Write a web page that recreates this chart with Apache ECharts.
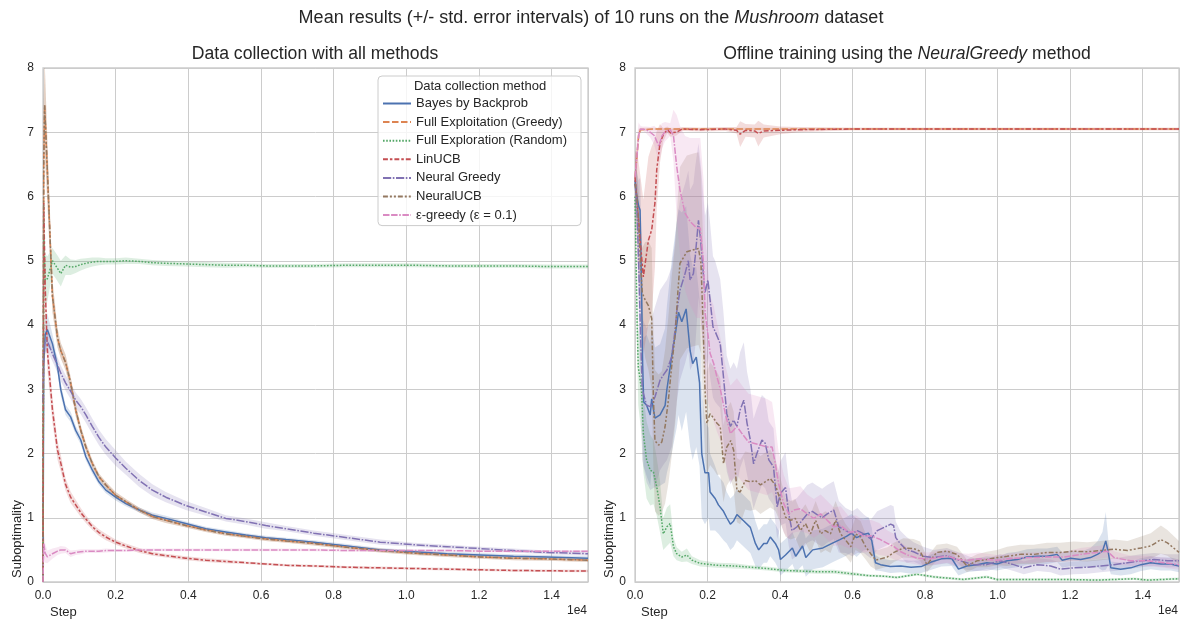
<!DOCTYPE html>
<html>
<head>
<meta charset="utf-8">
<script src="https://cdn.jsdelivr.net/npm/echarts@6/dist/echarts.min.js"></script>
<style>
  html, body { margin: 0; padding: 0; background: #fff; }
  #chart { width: 1182px; height: 622px; }
</style>
</head>
<body>
<div id="chart"></div>
<script>
// legend order = plotting order
const methods = ['Bayes by Backprob', 'Full Exploitation (Greedy)', 'Full Exploration (Random)',
  'LinUCB', 'Neural Greedy', 'NeuralUCB', 'ε-greedy (ε = 0.1)'];

// rows are [step, mean suboptimality, half width of std. error band]
// --- left: data collection with all methods ---
const lBayes = [[0,0,0],[20,3.4,0.3],[60,3.85,0.3],[120,3.93,0.25],[260,3.71,0.15],[400,3.35,0.1],[490,2.99,0.1],[620,2.68,0.08],[760,2.57,0.08],[900,2.36,0.07],[1040,2.21,0.07],[1180,1.95,0.06],[1360,1.74,0.06],[1540,1.56,0.05],[1730,1.43,0.05],[2000,1.32,0.05],[2280,1.22,0.04],[2650,1.12,0.04],[3010,1.04,0.04],[3380,0.99,0.04],[3930,0.91,0.03],[4480,0.83,0.03],[5030,0.78,0.03],[5580,0.73,0.03],[6130,0.69,0.03],[6690,0.66,0.03],[7450,0.62,0.03],[8370,0.56,0.03],[9280,0.5,0.03],[10200,0.47,0.03],[11120,0.44,0.03],[12040,0.42,0.03],[12950,0.4,0.03],[13870,0.39,0.03],[15000,0.37,0.03]];
// greedy sits under NeuralUCB in this panel
const lExploit = [[0,0,0],[20,6.5,1.0],[45,7.42,0.7],[120,6.4,0.5],[260,4.45,0.25],[400,3.8,0.15],[490,3.6,0.12],[620,3.42,0.12],[760,3.1,0.1],[900,2.68,0.1],[1040,2.36,0.08],[1180,2.1,0.07],[1360,1.84,0.06],[1540,1.64,0.05],[1730,1.51,0.05],[2000,1.35,0.05],[2280,1.25,0.04],[2650,1.12,0.04],[3010,1.02,0.04],[3380,0.96,0.04],[3930,0.88,0.03],[4480,0.81,0.03],[5030,0.75,0.03],[5580,0.71,0.03],[6130,0.67,0.03],[6690,0.64,0.03],[7450,0.6,0.03],[8370,0.54,0.03],[9280,0.49,0.03],[10200,0.45,0.03],[11120,0.42,0.03],[12040,0.39,0.03],[12950,0.37,0.03],[13870,0.36,0.03],[15000,0.34,0.03]];
const lRandom = [[0,0,0],[20,5.4,0.5],[60,4.7,0.4],[120,4.72,0.35],[260,5.0,0.2],[400,4.88,0.2],[490,4.8,0.2],[620,4.93,0.15],[760,4.9,0.12],[900,4.91,0.1],[1040,4.94,0.09],[1180,4.96,0.08],[1360,4.98,0.07],[1540,4.99,0.06],[1730,4.99,0.05],[2000,4.99,0.05],[2280,5.0,0.05],[2650,4.99,0.04],[3010,4.97,0.04],[3380,4.96,0.04],[3930,4.95,0.04],[4480,4.94,0.04],[5030,4.93,0.04],[5580,4.93,0.03],[6130,4.92,0.03],[6690,4.92,0.03],[7450,4.92,0.03],[8370,4.93,0.03],[9280,4.93,0.03],[10200,4.93,0.03],[11120,4.92,0.03],[12040,4.92,0.03],[12950,4.92,0.03],[13870,4.91,0.03],[15000,4.91,0.03]];
const lLin = [[0,0,0],[20,5.9,0.5],[60,4.6,0.4],[120,3.6,0.3],[260,2.68,0.2],[400,2.05,0.15],[490,1.85,0.13],[620,1.52,0.1],[760,1.32,0.09],[900,1.2,0.08],[1040,1.08,0.07],[1180,0.98,0.06],[1360,0.86,0.05],[1540,0.77,0.05],[1730,0.7,0.05],[2000,0.62,0.04],[2280,0.56,0.04],[2650,0.49,0.04],[3010,0.44,0.03],[3380,0.41,0.03],[3930,0.37,0.03],[4480,0.34,0.03],[5030,0.32,0.03],[5580,0.3,0.02],[6130,0.28,0.02],[6690,0.26,0.02],[7450,0.25,0.02],[8370,0.23,0.02],[9280,0.22,0.02],[10200,0.21,0.02],[11120,0.2,0.02],[12040,0.19,0.02],[12950,0.18,0.02],[13870,0.175,0.02],[15000,0.17,0.02]];
const lGreedy = [[0,2.8,0],[20,3.6,0.25],[60,3.75,0.2],[120,3.75,0.15],[260,3.55,0.12],[400,3.38,0.12],[490,3.25,0.12],[620,3.1,0.12],[760,2.97,0.12],[900,2.83,0.12],[1040,2.73,0.12],[1180,2.6,0.12],[1360,2.42,0.12],[1540,2.25,0.12],[1730,2.1,0.12],[2000,1.93,0.12],[2280,1.77,0.1],[2650,1.58,0.1],[3010,1.43,0.09],[3380,1.32,0.08],[3930,1.19,0.07],[4480,1.09,0.06],[5030,0.99,0.05],[5580,0.94,0.05],[6130,0.88,0.05],[6690,0.83,0.04],[7450,0.76,0.04],[8370,0.69,0.04],[9280,0.62,0.04],[10200,0.58,0.03],[11120,0.55,0.03],[12040,0.52,0.03],[12950,0.49,0.03],[13870,0.46,0.03],[15000,0.44,0.03]];
const lUCB = [[0,0,0],[20,6.5,1.0],[45,7.42,0.7],[120,6.4,0.5],[260,4.45,0.25],[400,3.8,0.15],[490,3.6,0.12],[620,3.42,0.12],[760,3.1,0.1],[900,2.68,0.1],[1040,2.36,0.08],[1180,2.1,0.07],[1360,1.84,0.06],[1540,1.64,0.05],[1730,1.51,0.05],[2000,1.35,0.05],[2280,1.25,0.04],[2650,1.12,0.04],[3010,1.02,0.04],[3380,0.96,0.04],[3930,0.88,0.03],[4480,0.81,0.03],[5030,0.75,0.03],[5580,0.71,0.03],[6130,0.67,0.03],[6690,0.64,0.03],[7450,0.6,0.03],[8370,0.54,0.03],[9280,0.49,0.03],[10200,0.45,0.03],[11120,0.42,0.03],[12040,0.39,0.03],[12950,0.37,0.03],[13870,0.36,0.03],[15000,0.34,0.03]];
const lEps = [[0,0,0],[20,0.6,0.2],[60,0.45,0.15],[120,0.39,0.1],[260,0.44,0.08],[400,0.48,0.06],[490,0.5,0.06],[620,0.5,0.05],[760,0.44,0.05],[900,0.46,0.04],[1040,0.47,0.04],[1180,0.48,0.03],[1360,0.48,0.03],[1540,0.48,0.03],[1730,0.49,0.03],[2000,0.49,0.02],[2280,0.49,0.02],[2650,0.5,0.02],[3010,0.5,0.02],[3380,0.5,0.02],[3930,0.5,0.02],[4480,0.5,0.02],[5030,0.5,0.02],[5580,0.5,0.02],[6130,0.5,0.02],[6690,0.5,0.02],[7450,0.5,0.02],[8370,0.49,0.02],[9280,0.49,0.02],[10200,0.49,0.02],[11120,0.49,0.02],[12040,0.48,0.02],[12950,0.48,0.02],[13870,0.48,0.02],[15000,0.48,0.02]];

// --- right: offline training with NeuralGreedy ---
const rBayes = [[0,6.25,0.4],[50,6.0,0.4],[100,5.85,0.4],[140,5.79,0.5],[180,4.6,0.8],[210,3.4,1.0],[240,2.8,1.0],[320,2.75,1.1],[420,2.6,1.1],[460,2.85,1.1],[550,2.55,1.1],[690,2.6,1.1],[830,2.75,1.2],[880,3.0,1.3],[1010,3.5,1.5],[1150,4.0,1.6],[1200,4.2,1.6],[1290,4.05,1.7],[1410,4.25,1.6],[1520,3.6,1.5],[1590,3.4,1.5],[1690,3.5,1.4],[1780,3.1,1.3],[1840,2.0,1.0],[1930,1.7,0.8],[2030,1.7,0.7],[2070,1.4,0.6],[2210,1.3,0.5],[2300,1.2,0.45],[2440,1.1,0.45],[2530,1.0,0.4],[2630,0.9,0.4],[2720,0.95,0.4],[2810,1.05,0.4],[3000,0.95,0.4],[3180,0.85,0.4],[3320,0.6,0.35],[3410,0.5,0.3],[3550,0.6,0.3],[3640,0.6,0.3],[3730,0.7,0.3],[3870,0.6,0.3],[3960,0.5,0.3],[4010,0.35,0.25],[4150,0.42,0.25],[4340,0.53,0.25],[4430,0.4,0.25],[4620,0.56,0.3],[4710,0.38,0.3],[4900,0.5,0.3],[5180,0.53,0.3],[5460,0.61,0.3],[5650,0.66,0.3],[5830,0.71,0.3],[5970,0.76,0.3],[6110,0.69,0.3],[6300,0.74,0.25],[6440,0.76,0.25],[6530,0.64,0.2],[6630,0.3,0.12],[6770,0.27,0.1],[7040,0.24,0.1],[7330,0.25,0.1],[7610,0.23,0.1],[7890,0.24,0.1],[8170,0.31,0.12],[8450,0.36,0.12],[8730,0.37,0.12],[8920,0.2,0.1],[9150,0.25,0.1],[9430,0.27,0.1],[9700,0.3,0.1],[9980,0.28,0.1],[10260,0.33,0.12],[10540,0.35,0.12],[10810,0.39,0.12],[11090,0.4,0.12],[11360,0.4,0.12],[11640,0.43,0.12],[11780,0.34,0.12],[12010,0.37,0.12],[12290,0.35,0.12],[12560,0.38,0.15],[12750,0.43,0.2],[12890,0.48,0.3],[12980,0.64,0.45],[13050,0.46,0.2],[13120,0.22,0.1],[13390,0.2,0.1],[13670,0.22,0.1],[13950,0.27,0.1],[14220,0.3,0.1],[14500,0.28,0.1],[14770,0.28,0.1],[15000,0.25,0.1]];
const rExploit = [[0,6.3,0.3],[50,6.6,0.2],[100,6.95,0.1],[150,7.04,0.03],[500,7.05,0.02],[1000,7.05,0.02],[2000,7.05,0.02],[4000,7.05,0.02],[8000,7.05,0.02],[12000,7.05,0.02],[15000,7.05,0.02]];
const rRandom = [[0,6.0,0.3],[30,5.0,0.4],[60,4.0,0.5],[90,3.35,0.6],[180,2.99,0.7],[230,2.31,0.6],[320,1.9,0.6],[420,1.74,0.55],[510,1.71,0.5],[600,1.48,0.45],[690,1.17,0.4],[780,0.75,0.25],[880,0.86,0.3],[970,0.91,0.3],[1060,0.55,0.15],[1150,0.44,0.1],[1290,0.39,0.08],[1430,0.42,0.1],[1570,0.34,0.06],[1800,0.29,0.05],[2260,0.26,0.04],[2720,0.25,0.04],[3180,0.23,0.03],[3640,0.21,0.03],[4100,0.18,0.03],[4560,0.17,0.03],[5020,0.16,0.03],[5480,0.16,0.03],[5950,0.13,0.03],[6410,0.1,0.02],[6870,0.09,0.02],[7220,0.07,0.02],[7770,0.12,0.02],[8230,0.08,0.02],[9060,0.04,0.02],[9700,0.08,0.02],[9980,0.04,0.02],[10900,0.04,0.02],[11830,0.04,0.02],[12750,0.03,0.02],[13760,0.05,0.02],[14130,0.03,0.02],[15000,0.05,0.02]];
const rLin = [[0,6.3,0.4],[60,5.9,0.8],[130,5.4,1.0],[230,4.75,1.2],[370,5.32,1.3],[460,5.48,1.3],[550,5.9,1.0],[600,6.42,0.6],[690,6.83,0.3],[780,6.96,0.1],[890,7.04,0.05],[980,6.99,0.06],[1140,7.0,0.05],[1300,7.05,0.03],[1800,7.04,0.03],[2500,7.05,0.03],[2800,7.03,0.05],[2900,6.97,0.2],[3050,7.03,0.1],[3300,7.02,0.1],[3400,6.98,0.2],[3550,7.02,0.1],[4000,7.03,0.06],[4500,7.04,0.04],[6000,7.05,0.02],[10000,7.05,0.02],[15000,7.05,0.02]];
const rGreedy = [[0,6.2,0.4],[50,5.9,0.5],[100,5.0,0.8],[150,3.9,1.0],[200,3.0,1.1],[320,2.75,1.2],[420,2.73,1.3],[550,2.88,1.4],[690,3.14,1.4],[780,3.22,1.4],[880,3.3,1.4],[1010,3.5,1.4],[1100,3.9,1.4],[1150,4.2,1.4],[1240,4.54,1.4],[1380,4.8,1.4],[1470,5.0,1.4],[1520,4.7,1.4],[1610,4.8,1.4],[1660,5.06,1.4],[1750,5.63,1.2],[1810,5.32,1.2],[1870,4.9,1.2],[1930,4.5,1.2],[2010,4.7,1.2],[2070,4.39,1.2],[2150,3.97,1.1],[2210,3.9,1.1],[2350,3.71,1.0],[2440,3.19,1.0],[2530,2.62,0.9],[2630,2.42,0.9],[2720,2.52,0.9],[2810,2.42,0.9],[2900,2.68,0.9],[3000,2.83,0.9],[3090,2.47,0.8],[3180,2.21,0.8],[3270,1.84,0.7],[3360,2.0,0.7],[3500,2.21,0.7],[3590,2.16,0.7],[3690,1.9,0.6],[3820,1.79,0.6],[3920,1.17,0.5],[4010,1.38,0.5],[4150,1.47,0.55],[4240,1.06,0.5],[4330,0.8,0.45],[4470,0.86,0.45],[4610,0.96,0.45],[4750,1.06,0.45],[4890,1.1,0.45],[5020,1.05,0.45],[5160,1.0,0.45],[5300,1.06,0.45],[5480,1.12,0.45],[5620,0.86,0.4],[5810,0.8,0.35],[5990,0.75,0.35],[6130,0.8,0.35],[6310,0.75,0.3],[6500,0.67,0.3],[6680,0.8,0.3],[6870,0.85,0.3],[7050,0.9,0.3],[7130,0.88,0.3],[7190,0.69,0.25],[7310,0.6,0.2],[7490,0.5,0.2],[7680,0.47,0.15],[7950,0.4,0.15],[8230,0.38,0.12],[8600,0.41,0.12],[8970,0.33,0.12],[9340,0.27,0.1],[9700,0.27,0.1],[10070,0.33,0.1],[10440,0.27,0.1],[10720,0.22,0.1],[11090,0.27,0.1],[11460,0.25,0.1],[11730,0.2,0.1],[12100,0.22,0.1],[12470,0.23,0.1],[12840,0.25,0.1],[13210,0.27,0.1],[13580,0.3,0.1],[13950,0.33,0.1],[14310,0.35,0.1],[14680,0.33,0.1],[15000,0.33,0.1]];
const rUCB = [[0,6.2,0.3],[50,6.0,0.4],[100,5.6,0.5],[150,5.0,0.6],[200,4.5,0.7],[280,4.39,0.9],[370,4.3,1.0],[460,4.1,1.1],[510,2.83,1.1],[550,2.2,1.1],[650,2.13,1.1],[740,2.18,1.1],[830,2.42,1.2],[920,2.83,1.3],[1010,3.35,1.4],[1110,3.87,1.4],[1180,4.5,1.5],[1240,4.96,1.5],[1430,5.14,1.5],[1610,5.17,1.5],[1750,5.19,1.5],[1820,4.96,1.4],[1870,4.13,1.3],[1930,3.0,1.0],[1980,2.47,0.8],[2070,2.62,0.8],[2170,2.55,0.8],[2260,2.47,0.8],[2350,2.42,0.75],[2440,1.84,0.6],[2530,2.1,0.6],[2640,2.2,0.6],[2720,2.05,0.6],[2810,1.43,0.5],[2900,1.4,0.5],[3040,1.58,0.45],[3180,1.56,0.45],[3320,1.58,0.45],[3460,1.51,0.45],[3590,1.56,0.45],[3730,1.61,0.45],[3870,1.51,0.4],[4010,1.27,0.35],[4150,1.01,0.3],[4290,0.96,0.3],[4420,0.99,0.3],[4560,0.8,0.3],[4700,0.91,0.3],[4840,0.75,0.3],[4980,0.96,0.3],[5120,0.75,0.3],[5250,0.8,0.3],[5390,0.75,0.3],[5530,0.96,0.3],[5670,0.75,0.3],[5810,0.65,0.25],[5950,0.55,0.25],[6080,0.75,0.25],[6220,0.7,0.25],[6360,0.55,0.2],[6500,0.44,0.2],[6640,0.34,0.15],[6770,0.36,0.15],[6960,0.39,0.15],[7140,0.46,0.15],[7400,0.53,0.15],[7680,0.52,0.15],[7860,0.48,0.15],[8050,0.27,0.12],[8320,0.46,0.12],[8600,0.48,0.12],[8880,0.43,0.12],[9150,0.25,0.1],[9430,0.33,0.1],[9700,0.35,0.12],[9980,0.38,0.12],[10260,0.4,0.15],[10630,0.43,0.15],[11000,0.43,0.15],[11360,0.46,0.15],[11730,0.46,0.15],[12100,0.48,0.15],[12470,0.47,0.15],[12840,0.49,0.15],[13210,0.51,0.15],[13580,0.49,0.15],[13950,0.53,0.18],[14220,0.56,0.2],[14500,0.66,0.22],[14680,0.61,0.2],[15000,0.46,0.18]];
const rEps = [[0,6.3,0.3],[50,6.6,0.3],[100,6.95,0.2],[150,7.05,0.05],[200,7.06,0.03],[300,7.04,0.05],[420,7.0,0.08],[530,6.95,0.15],[660,6.78,0.25],[740,6.94,0.2],[830,7.01,0.15],[970,7.04,0.1],[1060,6.95,0.4],[1150,6.47,0.8],[1240,6.1,1.0],[1380,5.74,1.2],[1520,5.61,1.3],[1700,5.51,1.4],[1800,5.51,1.4],[1890,4.96,1.3],[1935,4.18,1.2],[2030,3.77,1.0],[2070,3.56,0.9],[2170,3.4,0.9],[2260,3.19,0.85],[2350,3.01,0.8],[2490,2.62,0.75],[2630,2.31,0.75],[2810,2.42,0.75],[2950,2.31,0.75],[3130,2.18,0.75],[3270,2.16,0.75],[3460,2.13,0.75],[3640,2.1,0.75],[3780,2.1,0.7],[3870,1.84,0.6],[3960,1.53,0.5],[4100,1.22,0.45],[4240,1.06,0.4],[4380,1.12,0.35],[4560,1.14,0.35],[4750,1.06,0.3],[4930,0.99,0.3],[5120,1.06,0.3],[5300,0.96,0.3],[5480,0.86,0.3],[5670,0.88,0.3],[5900,0.77,0.25],[6080,0.79,0.25],[6310,0.71,0.25],[6500,0.72,0.25],[6730,0.67,0.25],[6960,0.6,0.2],[7140,0.55,0.2],[7330,0.47,0.15],[7520,0.42,0.12],[7790,0.37,0.1],[8070,0.36,0.1],[8350,0.38,0.1],[8630,0.4,0.1],[8920,0.35,0.1],[9190,0.34,0.1],[9480,0.36,0.1],[9980,0.34,0.08],[10440,0.37,0.08],[10900,0.38,0.08],[11360,0.39,0.08],[11830,0.39,0.08],[12290,0.43,0.1],[12750,0.46,0.1],[13020,0.48,0.1],[13210,0.38,0.1],[13670,0.33,0.08],[14130,0.33,0.08],[14590,0.3,0.08],[15000,0.27,0.08]];

const yTicks = [0, 1, 2, 3, 4, 5, 6, 7, 8];

const leftRuns = [lBayes, lExploit, lRandom, lLin, lGreedy, lUCB, lEps];
const rightRuns = [rBayes, rExploit, rRandom, rLin, rGreedy, rUCB, rEps];

const FONT = '"Liberation Sans", Arial, sans-serif';
const TXT = '#262626';
const GRID = '#cccccc';
const colors = ['#4c72b0', '#dd8452', '#55a868', '#c44e52', '#8172b3', '#937860', '#da8bc3'];
const dashes = ['solid', [6.5, 2.5], [1.6, 1.6], [4.9, 2, 2.5, 2], [8.2, 1.6, 1.6, 1.6],
  [4.9, 2, 2, 2, 2, 2], [6.5, 1.6, 6.5, 1.6, 1.6, 1.6]];

let chart = echarts.init(document.getElementById('chart'), null, { renderer: 'canvas' });

function bandSeries(panel, rows, k) {
  return {
    type: 'custom',
    name: methods[k] + ' band',
    xAxisIndex: panel,
    yAxisIndex: panel,
    clip: true,
    silent: true,
    z: 1,
    data: rows,
    encode: { x: 0, y: 1 },
    renderItem: function (params, api) {
      if (params.dataIndex !== 0) return;
      let upper = [], lower = [];
      for (let r of rows) {
        upper.push(api.coord([r[0], r[1] + r[2]]));
        lower.push(api.coord([r[0], r[1] - r[2]]));
      }
      return {
        type: 'polygon',
        shape: { points: upper.concat(lower.reverse()) },
        style: { fill: colors[k], opacity: 0.2 }
      };
    }
  };
}

function lineSeries(panel, rows, k) {
  return {
    type: 'line',
    name: methods[k],
    xAxisIndex: panel,
    yAxisIndex: panel,
    z: 2,
    symbol: 'none',
    showSymbol: false,
    data: rows.map(r => [r[0], r[1]]),
    itemStyle: { color: colors[k] },
    lineStyle: { color: colors[k], width: 1.5, type: dashes[k] }
  };
}

let series = [];
[leftRuns, rightRuns].forEach((runs, panel) => {
  runs.forEach((rows, k) => {
    series.push(bandSeries(panel, rows, k));
    series.push(lineSeries(panel, rows, k));
  });
});

function xAxis(i) {
  return {
    type: 'value', gridIndex: i, min: 0, max: 15000, interval: 2000,
    axisLine: { show: false }, axisTick: { show: false },
    splitLine: { lineStyle: { color: GRID, width: 1 } },
    axisLabel: {
      color: TXT, fontSize: 12, fontFamily: FONT, margin: 8,
      formatter: v => v >= 15000 ? '' : (v / 10000).toFixed(1)
    }
  };
}
function yAxis(i) {
  return {
    type: 'value', gridIndex: i, min: yTicks[0], max: yTicks[yTicks.length - 1], interval: 1,
    axisLine: { show: false }, axisTick: { show: false },
    splitLine: { lineStyle: { color: GRID, width: 1 } },
    axisLabel: { color: TXT, fontSize: 12, fontFamily: FONT, margin: 9 }
  };
}

const titleStyle = (size) => ({
  fontSize: size, fontWeight: 'normal', color: TXT, fontFamily: FONT,
  rich: { i: { fontSize: size, fontStyle: 'italic', color: TXT, fontFamily: FONT } }
});

chart.setOption({
  animation: false,
  backgroundColor: '#ffffff',
  title: [
    { text: 'Mean results (+/- std. error intervals) of 10 runs on the {i|Mushroom} dataset',
      left: 591, top: 9, textAlign: 'center', padding: 0, textStyle: titleStyle(18) },
    { text: 'Data collection with all methods',
      left: 315, top: 45, textAlign: 'center', padding: 0, textStyle: titleStyle(17.6) },
    { text: 'Offline training using the {i|NeuralGreedy} method',
      left: 907, top: 45, textAlign: 'center', padding: 0, textStyle: titleStyle(17.6) }
  ],
  grid: [
    { left: 43, top: 68, width: 545, height: 514, show: true, borderColor: GRID, borderWidth: 1.3, backgroundColor: 'transparent' },
    { left: 635, top: 68, width: 544, height: 514, show: true, borderColor: GRID, borderWidth: 1.3, backgroundColor: 'transparent' }
  ],
  xAxis: [xAxis(0), xAxis(1)],
  yAxis: [yAxis(0), yAxis(1)],
  legend: {
    data: methods,
    orient: 'vertical',
    left: 378, top: 76,
    padding: [21, 14, 4, 4],
    itemWidth: 28, itemHeight: 14, itemGap: 5.6,
    selectedMode: false,
    itemStyle: { opacity: 0, borderWidth: 0 },
    backgroundColor: 'rgba(255,255,255,0.8)',
    borderColor: GRID, borderWidth: 1, borderRadius: 4,
    textStyle: { color: TXT, fontSize: 13, fontFamily: FONT },
    z: 5
  },
  graphic: [
    { type: 'text', x: 480, y: 86, z: 10, style: { text: 'Data collection method', fill: TXT, font: '13px ' + FONT, textAlign: 'center', textVerticalAlign: 'middle' } },
    { type: 'text', x: 50, y: 612, style: { text: 'Step', fill: TXT, font: '13px ' + FONT, textAlign: 'left', textVerticalAlign: 'middle' } },
    { type: 'text', x: 641, y: 612, style: { text: 'Step', fill: TXT, font: '13px ' + FONT, textAlign: 'left', textVerticalAlign: 'middle' } },
    { type: 'text', x: 17, y: 578, rotation: Math.PI / 2, style: { text: 'Suboptimality', fill: TXT, font: '13px ' + FONT, textAlign: 'left', textVerticalAlign: 'middle' } },
    { type: 'text', x: 609, y: 578, rotation: Math.PI / 2, style: { text: 'Suboptimality', fill: TXT, font: '13px ' + FONT, textAlign: 'left', textVerticalAlign: 'middle' } },
    { type: 'text', x: 587, y: 611, style: { text: '1e4', fill: TXT, font: '12px ' + FONT, textAlign: 'right', textVerticalAlign: 'middle' } },
    { type: 'text', x: 1178, y: 611, style: { text: '1e4', fill: TXT, font: '12px ' + FONT, textAlign: 'right', textVerticalAlign: 'middle' } }
  ],
  series: series
});
</script>
</body>
</html>
